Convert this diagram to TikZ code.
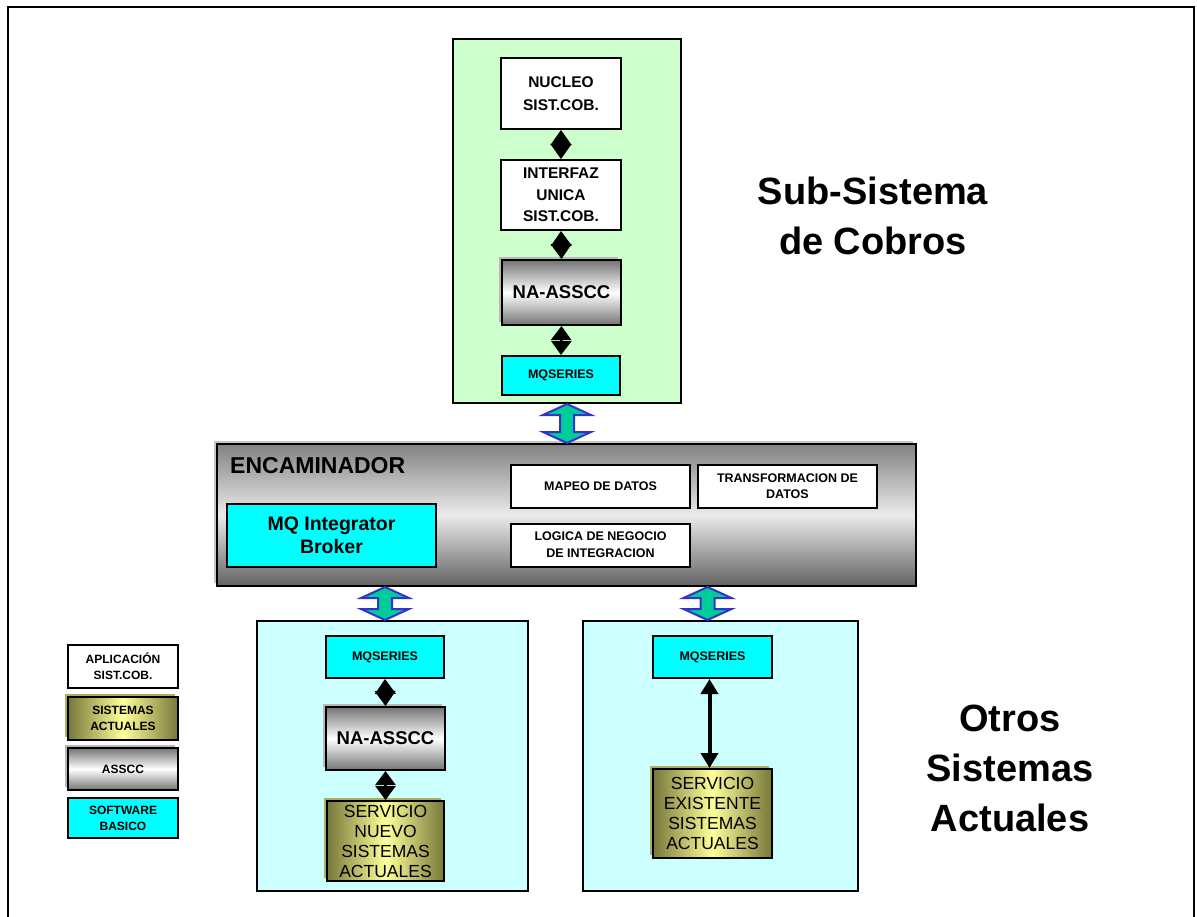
\documentclass[tikz,border=0pt]{standalone}
\usepackage{fontspec}
\setmainfont{Liberation Sans}
\usetikzlibrary{arrows.meta,shadows,calc}
\definecolor{lgreen}{HTML}{CCFFCC}
\definecolor{lcyan}{HTML}{CCFFFF}
\definecolor{cyanb}{HTML}{00FFFF}
\definecolor{olived}{HTML}{77773A}
\definecolor{olivel}{HTML}{FFFF99}
\definecolor{grayd}{HTML}{747474}
\definecolor{arrfill}{HTML}{00CC99}
\definecolor{arrline}{HTML}{3333CC}
\newcommand\fs[2]{\fontsize{#1}{#2}\selectfont}
\newcommand\blockarrow[2]{%
  \draw[blockarr] let \p1=#1, \p2=#2 in
    (\x1,\y1) -- (\x1+24pt,\y1-11pt) -- (\x1+7pt,\y1-11pt) -- (\x1+7pt,\y2+11pt)
    -- (\x1+24pt,\y2+11pt) -- (\x1,\y2) -- (\x1-24pt,\y2+11pt) -- (\x1-7pt,\y2+11pt)
    -- (\x1-7pt,\y1-11pt) -- (\x1-24pt,\y1-11pt) -- cycle;}
\begin{document}
\begin{tikzpicture}[x=1pt,y=-1pt,
  base/.style={draw=black, line width=2pt, align=center, inner sep=0pt},
  whitebox/.style={base, fill=white},
  cyanbox/.style={base, fill=cyanb},
  assccbox/.style={base, top color=grayd, bottom color=grayd, middle color=white,
     general shadow={shadow xshift=-3pt, shadow yshift=3pt, fill=gray!55}},
  olivebox/.style={base, left color=olived, right color=olived, middle color=olivel,
     general shadow={shadow xshift=-3pt, shadow yshift=3pt, fill=olived!60!olivel}},
  encbox/.style={base, top color=grayd!90, bottom color=grayd!85!black, middle color=white!92!black,
     general shadow={shadow xshift=-3pt, shadow yshift=3pt, fill=gray!45}},
  group/.style={draw=black, line width=2pt},
  dia/.style={line width=1pt, arrows={Triangle[width=21pt,length=15pt]-Triangle[width=21pt,length=15pt]}},
  dbl/.style={line width=2.5pt, arrows={Triangle[width=20pt,length=14pt]-Triangle[width=20pt,length=14pt]}},
  thickarr/.style={line width=4pt, arrows={Triangle[width=17pt,length=15pt]-Triangle[width=17pt,length=15pt]}},
  blockarr/.style={draw=arrline, fill=arrfill, line width=2pt, line join=miter},
  title/.style={font=\bfseries\fs{38}{50}, align=center}
]
\useasboundingbox (0,0) rectangle (1197,916);
\fill[white] (0,0) rectangle (1197,916);
% outer frame
\draw[line width=2.2pt] (8,940) -- (8,7) -- (1194,7) -- (1194,940);

% ===== Sub-Sistema de Cobros =====
\node[group, fill=lgreen, minimum width=228, minimum height=364] (sub) at (567,221) {};
\node[whitebox, minimum width=120, minimum height=71, font=\bfseries\fs{15.5}{23}] (nucleo) at (561,93.5) {NUCLEO\\SIST.COB.};
\node[whitebox, minimum width=120, minimum height=70, font=\bfseries\fs{15.5}{21.5}] (interfaz) at (561,195) {INTERFAZ\\UNICA\\SIST.COB.};
\node[assccbox, minimum width=119, minimum height=65, font=\bfseries\fs{18.5}{22}] (naT) at (561.5,292.5) {NA-ASSCC};
\node[cyanbox, minimum width=118, minimum height=39, font=\bfseries\fs{12.5}{15}] (mqT) at (561,375.5) {MQSERIES};
\draw[dia] (nucleo.south) -- (interfaz.north);
\draw[dia] (interfaz.south) -- (naT.north);
\draw[dbl] (naT.south) -- (mqT.north);

\node[title] (titleSub) at (873,216) {Sub-Sistema\\de Cobros};

% ===== Encaminador =====
\node[encbox, minimum width=699, minimum height=142] (enc) at (566.5,515) {};
\node[anchor=west, font=\bfseries\fs{23}{26}, inner sep=0pt] (encl) at (230,466) {ENCAMINADOR};
\node[cyanbox, minimum width=209, minimum height=63, font=\bfseries\fs{19.5}{23}] (broker) at (331.5,535.5) {MQ Integrator\\Broker};
\node[whitebox, minimum width=179, minimum height=43, font=\bfseries\fs{12.5}{16}] (mapeo) at (600.5,486.5) {MAPEO DE DATOS};
\node[whitebox, minimum width=179, minimum height=43, font=\bfseries\fs{12.5}{16}] (transf) at (787.5,486.5) {TRANSFORMACION DE\\DATOS};
\node[whitebox, minimum width=179, minimum height=43, font=\bfseries\fs{12.5}{17}] (logica) at (600.5,545) {LOGICA DE NEGOCIO\\DE INTEGRACION};

% ===== Bottom groups =====
\node[group, fill=lcyan, minimum width=271, minimum height=270] (grpL) at (392.5,756) {};
\node[group, fill=lcyan, minimum width=275, minimum height=270] (grpR) at (720.5,756) {};

\node[cyanbox, minimum width=118, minimum height=42, font=\bfseries\fs{12.5}{15}] (mqL) at (385,657) {MQSERIES};
\node[assccbox, minimum width=119, minimum height=63, font=\bfseries\fs{18.5}{22}] (naL) at (385.5,738.5) {NA-ASSCC};
\node[olivebox, minimum width=117, minimum height=80, font=\fs{17.5}{20}] (servN) at (385.5,841) {SERVICIO\\NUEVO\\SISTEMAS\\ACTUALES};
\draw[dia] (mqL.south) -- (naL.north);
\draw[dbl] (naL.south) -- (servN.north);

\node[cyanbox, minimum width=119, minimum height=42, font=\bfseries\fs{12.5}{15}] (mqR) at (712.5,657) {MQSERIES};
\node[olivebox, minimum width=119, minimum height=89, font=\fs{17.5}{20.3}] (servE) at (712.5,813.5) {SERVICIO\\EXISTENTE\\SISTEMAS\\ACTUALES};
\draw[thickarr] ($(mqR.south)+(-3,0)$) -- ($(servE.north)+(-3,0)$);

% block arrows
\blockarrow{(sub.south)}{(enc.north -| sub.south)}
\blockarrow{(enc.south -| mqL.north)}{(grpL.north -| mqL.north)}
\blockarrow{($(enc.south -| mqR.north)+(-5,0)$)}{($(grpR.north -| mqR.north)+(-5,0)$)}

\node[title] (titleOtros) at (1010,768) {Otros\\Sistemas\\Actuales};

% ===== Legend =====
\node[whitebox, minimum width=110, minimum height=43, font=\bfseries\fs{12}{16}] (lgApp) at (123,666.5) {APLICACIÓN\\SIST.COB.};
\node[olivebox, minimum width=110, minimum height=43, font=\bfseries\fs{12}{16}] (lgSis) at (123,718.5) {SISTEMAS\\ACTUALES};
\node[assccbox, minimum width=110, minimum height=42, font=\bfseries\fs{12}{16}] (lgAss) at (123,769) {ASSCC};
\node[cyanbox, minimum width=110, minimum height=40, font=\bfseries\fs{12}{16}] (lgSoft) at (123,818) {SOFTWARE\\BASICO};
\end{tikzpicture}
\end{document}
